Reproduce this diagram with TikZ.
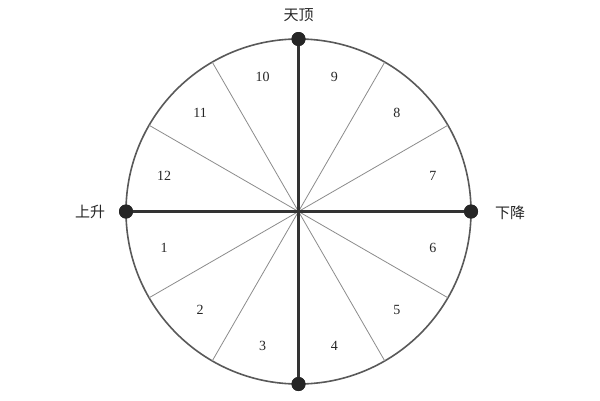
\documentclass[tikz,border=0pt]{standalone}
\usepackage{fontspec}
\setmainfont{Liberation Serif}
\newfontfamily\cjk{Noto Sans CJK SC}
\usetikzlibrary{calc}
\begin{document}
\begin{tikzpicture}[x=1pt,y=-1pt,
  dotnode/.style={circle,fill=black!85,inner sep=0pt,minimum size=14pt},
  numlabel/.style={font=\fontsize{14}{14}\selectfont,text=black!85,inner sep=0pt},
  cjklabel/.style={font=\cjk\fontsize{15}{15}\selectfont,text=black!85,inner sep=0pt},
  rim/.style={draw=black!65,line width=1.6pt},
  axis/.style={draw=black!80,line width=2.2pt},
  spoke/.style={draw=black!45,line width=0.8pt}]
\useasboundingbox[fill=white] (0,0) rectangle (600,400);
\coordinate (c) at (298.5,211.5);
\draw[rim] (c) circle[radius=172.5];
\foreach \a in {30,60,120,150,210,240,300,330}{
  \coordinate (s\a) at ($(c)+(\a:172.5)$);
  \draw[spoke] (c) -- (s\a);
}
\node[dotnode] (top) at (298.5,39) {};
\node[dotnode] (bot) at (298.5,384) {};
\node[dotnode] (lft) at (126,211.5) {};
\node[dotnode] (rgt) at (471,211.5) {};
\draw[axis] (top.center) -- (bot.center);
\draw[axis] (lft.center) -- (rgt.center);
\node[dotnode] at (top) {};
\node[dotnode] at (bot) {};
\node[dotnode] at (lft) {};
\node[dotnode] at (rgt) {};
\foreach \n/\a in {10/-105,9/-75,8/-45,7/-15,6/15,5/45,4/75,3/105,2/135,1/165,12/-165,11/-135}{
  \node[numlabel] (n\n) at ($(c)+(\a:139)$) {\n};
}
\node[cjklabel] (tz) at (298.5,15) {天顶};
\node[cjklabel] (ss) at (90,212) {上升};
\node[cjklabel] (xj) at (510,213) {下降};
\end{tikzpicture}
\end{document}
